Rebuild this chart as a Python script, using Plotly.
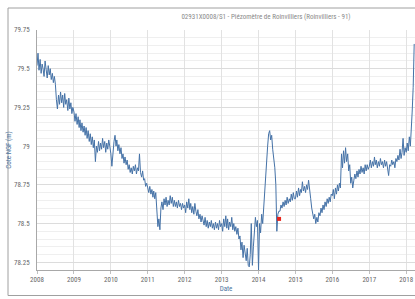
import pandas as pd
import plotly.graph_objects as go

# Readings on the 1st, 11th and 21st of each month, Cote NGF (m)
v2008 = [79.52, 79.60, 79.49, 79.56, 79.47, 79.53, 79.50, 79.45, 79.55, 79.48, 79.44, 79.52,
         79.46, 79.50, 79.43, 79.47, 79.41, 79.45, 79.40, 79.30, 79.24, 79.33, 79.27, 79.35,
         79.28, 79.33, 79.25, 79.34, 79.27, 79.30, 79.23, 79.31, 79.24, 79.28, 79.21, 79.25]
v2009 = [79.22, 79.16, 79.21, 79.14, 79.19, 79.12, 79.17, 79.10, 79.15, 79.09, 79.13, 79.07,
         79.12, 79.05, 79.10, 79.03, 79.08, 79.01, 79.06, 78.99, 79.04, 78.90, 79.00, 78.96,
         79.03, 78.97, 79.02, 78.98, 79.05, 78.99, 79.03, 78.96, 79.02, 78.98, 79.04, 79.00]
v2010 = [78.95, 78.87, 78.98, 79.03, 79.07, 79.00, 79.04, 78.97, 79.01, 78.95, 78.99, 78.92,
         78.95, 78.89, 78.93, 78.88, 78.91, 78.85, 78.88, 78.83, 78.86, 78.82, 78.87, 78.84,
         78.88, 78.82, 78.86, 78.84, 78.95, 78.83, 78.80, 78.84, 78.78, 78.79, 78.74, 78.76]
v2011 = [78.73, 78.70, 78.74, 78.69, 78.72, 78.67, 78.71, 78.66, 78.70, 78.58, 78.48, 78.53,
         78.46, 78.60, 78.64, 78.59, 78.66, 78.62, 78.67, 78.61, 78.65, 78.62, 78.68, 78.63,
         78.67, 78.61, 78.65, 78.61, 78.64, 78.60, 78.65, 78.61, 78.63, 78.59, 78.63, 78.60]
v2012 = [78.62, 78.57, 78.64, 78.60, 78.66, 78.59, 78.63, 78.57, 78.61, 78.56, 78.63, 78.58,
         78.55, 78.59, 78.53, 78.56, 78.51, 78.55, 78.52, 78.49, 78.54, 78.48, 78.52, 78.47,
         78.51, 78.48, 78.52, 78.47, 78.50, 78.46, 78.51, 78.47, 78.50, 78.46, 78.52, 78.48]
v2013 = [78.50, 78.45, 78.53, 78.48, 78.55, 78.47, 78.53, 78.46, 78.51, 78.48, 78.54, 78.46,
         78.50, 78.45, 78.48, 78.43, 78.47, 78.40, 78.42, 78.33, 78.38, 78.28, 78.36, 78.30,
         78.26, 78.34, 78.23, 78.22, 78.30, 78.50, 78.23, 78.35, 78.46, 78.54, 78.48, 78.52]
v2014 = [78.20, 78.50, 78.44, 78.56, 78.50, 78.62, 78.68, 78.80, 78.92, 79.00, 79.08, 79.10,
         79.04, 79.07, 78.98, 78.92, 78.86, 78.75, 78.45, 78.56, 78.58, 78.58, 78.62, 78.60,
         78.64, 78.61, 78.65, 78.62, 78.67, 78.63, 78.66, 78.64, 78.69, 78.65, 78.70, 78.66]
v2015 = [78.66, 78.71, 78.67, 78.73, 78.68, 78.72, 78.70, 78.77, 78.71, 78.74, 78.70, 78.75,
         78.72, 78.78, 78.70, 78.66, 78.60, 78.57, 78.53, 78.56, 78.50, 78.54, 78.51, 78.57,
         78.55, 78.60, 78.57, 78.62, 78.59, 78.64, 78.61, 78.66, 78.63, 78.67, 78.64, 78.69]
v2016 = [78.68, 78.72, 78.66, 78.73, 78.69, 78.75, 78.71, 78.76, 78.73, 78.95, 78.86, 78.97,
         78.89, 78.99, 78.90, 78.95, 78.84, 78.88, 78.76, 78.80, 78.73, 78.78, 78.82, 78.79,
         78.84, 78.80, 78.85, 78.82, 78.87, 78.83, 78.86, 78.82, 78.88, 78.84, 78.88, 78.85]
v2017 = [78.87, 78.91, 78.86, 78.90, 78.87, 78.93, 78.88, 78.91, 78.86, 78.90, 78.87, 78.92,
         78.88, 78.90, 78.86, 78.91, 78.87, 78.90, 78.86, 78.81, 78.88, 78.87, 78.91, 78.88,
         78.90, 78.86, 78.92, 78.90, 78.94, 78.91, 78.98, 78.92, 78.96, 79.05, 78.94, 78.99]
v2018 = [78.96, 79.02, 78.97, 79.06, 79.00, 79.10, 79.22, 79.38, 79.66]
reading_days = [1, 11, 21]

# Isolated (red) measurement
red_date = ["2014-07-23"]
red_value = [78.53]

y_tick_vals = [78.25, 78.5, 78.75, 79, 79.25, 79.5, 79.75]
y_tick_text = ["78.25", "78.5", "78.75", "79", "79.25", "79.5", "79.75"]
x_tick_years = [str(y) for y in range(2008, 2019)]

title_text = "02931X0008/S1 - Piézomètre de Roinvilliers (Roinvilliers - 91)"
y_title = "Cote NGF (m)"
x_title = "Date"

values = v2008 + v2009 + v2010 + v2011 + v2012 + v2013 + v2014 + v2015 + v2016 + v2017 + v2018
month_starts = pd.date_range("2008-01-01", periods=(len(values) + 2) // 3, freq="MS")
dates = [m + pd.Timedelta(days=d - 1) for m in month_starts for d in reading_days][:len(values)]

FONT = "Liberation Sans Narrow, Roboto Condensed, Arial Narrow, Liberation Sans, sans-serif"

fig = go.Figure()
fig.add_trace(go.Scatter(x=dates, y=values, mode="lines",
                         line=dict(color="#4572A7", width=1), showlegend=False,
                         hoverinfo="x+y"))
fig.add_trace(go.Scatter(x=red_date, y=red_value, mode="markers",
                         marker=dict(color="#e8251c", size=4, symbol="square"),
                         showlegend=False))

fig.update_layout(
    width=415, height=299,
    margin=dict(l=37, r=0, t=30, b=29, autoexpand=False),
    paper_bgcolor="white", plot_bgcolor="white",
    font=dict(family=FONT, size=7, color="#666666"),
    title=dict(text=title_text, x=266 / 415, xanchor="center", y=1 - 17 / 299, yanchor="middle",
               font=dict(family=FONT, size=7, color="#8a8a8a")),
)
fig.update_xaxes(
    automargin=False,
    range=["2008-01-01", "2018-03-29"],
    tickvals=[f"{y}-01-01" for y in x_tick_years], ticktext=x_tick_years,
    showgrid=True, gridcolor="#e2e2e2", gridwidth=1,
    showline=True, linecolor="#a8a8a8", linewidth=1,
    ticks="outside", ticklen=3, tickcolor="#c0c0c0",
    tickfont=dict(family=FONT, size=7, color="#666666"),
    title=dict(text=x_title, font=dict(family=FONT, size=7, color="#4d759e"), standoff=2),
    zeroline=False,
)
fig.update_yaxes(
    automargin=False,
    range=[78.2, 79.75],
    tickvals=y_tick_vals, ticktext=y_tick_text,
    showgrid=True, gridcolor="#dcdcdc", gridwidth=1,
    minor=dict(dtick=0.05, showgrid=True, gridcolor="#efefef", gridwidth=1),
    showline=True, linecolor="#a8a8a8", linewidth=1,
    ticks="", ticklabelstandoff=5,
    tickfont=dict(family=FONT, size=7, color="#666666"),
    title=dict(text=y_title, font=dict(family=FONT, size=7, color="#4d759e"), standoff=1),
    zeroline=False,
)
# outer chart border (extends beyond the visible right edge)
fig.add_shape(type="rect", xref="paper", yref="paper",
              x0=(8 - 37) / 378, x1=1.2, y0=(270 - 295.5) / 240, y1=(270 - 8) / 240,
              line=dict(color="#a0a0a0", width=1), fillcolor="rgba(0,0,0,0)", layer="below")

fig.write_html("out.html", config={"displayModeBar": False},
               post_script="document.body.style.margin='0';document.body.style.overflow='hidden';")
